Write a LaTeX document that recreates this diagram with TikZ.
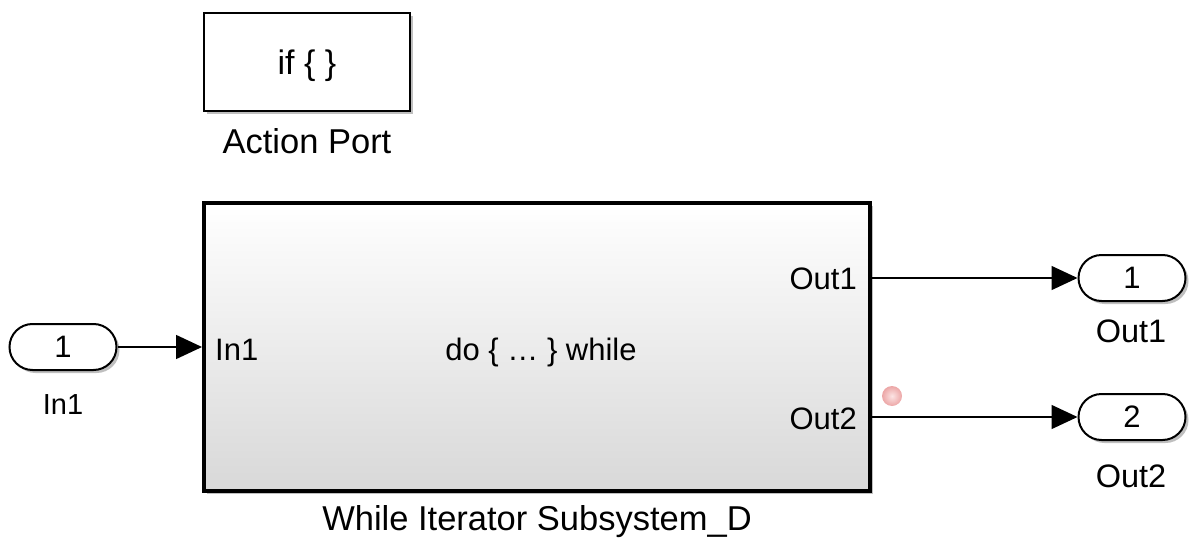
\documentclass[tikz,border=0pt]{standalone}
\usepackage{fontspec}
\setmainfont{Liberation Sans}
\usetikzlibrary{arrows.meta,shapes.misc,shadows}
\definecolor{dotedge}{RGB}{236,166,166}
\definecolor{dotin}{RGB}{252,228,228}
\definecolor{subbot}{RGB}{216,216,216}
\begin{document}
\begin{tikzpicture}[x=1pt,y=-1pt,
  lbl/.style={font=\fontsize{31}{36}\selectfont, inner sep=0pt, text height=22pt, text depth=0pt},
  blocklabel/.style={inner sep=0pt, anchor=base},
  shd/.style={drop shadow={shadow xshift=3pt, shadow yshift=-3pt, opacity=0.25, fill=black}},
  blockbox/.style={draw=black, line width=2.5pt, fill=white, minimum width=206pt, minimum height=98pt, inner sep=0pt, shd},
  subsys/.style={draw=black, line width=4pt, top color=white, bottom color=subbot, minimum width=666pt, minimum height=288pt, inner sep=0pt, shd},
  port/.style={rounded rectangle, draw=black, line width=2pt, fill=white, minimum width=107pt, minimum height=46pt, inner sep=0pt, shd, font=\fontsize{31}{36}\selectfont},
  conn/.style={line width=1.5pt, -{Triangle[length=26pt,width=24pt]}}
]
\useasboundingbox (0,0) rectangle (1195,538);
% Action Port
\node[blockbox] (ap) at (307,62) {};
\node[lbl, font=\fontsize{34}{40}\selectfont, text height=24pt] (aptext) at (307,62) {if \{ \}};
\node[blocklabel, font=\fontsize{34.5}{40}\selectfont] (aplbl) at (307,153) {Action Port};
% Subsystem
\node[subsys] (sys) at (537,347) {};
\node[lbl, anchor=west] (sysin1) at (215,349) {In1};
\node[lbl, anchor=east] (sysout1) at (857,278) {Out1};
\node[lbl, anchor=east] (sysout2) at (857,418) {Out2};
\node[lbl] (systext) at (541,349) {do \{ … \} while};
\node[blocklabel, font=\fontsize{34.5}{40}\selectfont] (syslbl) at (537,530) {While Iterator Subsystem\_D};
% Ports
\node[port] (in1) at (63,347) {1};
\node[blocklabel, font=\fontsize{29}{34}\selectfont] (in1lbl) at (63,414) {In1};
\node[port] (out1) at (1132,278) {1};
\node[blocklabel, font=\fontsize{32.5}{38}\selectfont] (out1lbl) at (1131,342) {Out1};
\node[port] (out2) at (1132,417) {2};
\node[blocklabel, font=\fontsize{32.5}{38}\selectfont] (out2lbl) at (1131,487) {Out2};
% pink dot
\node[circle, minimum size=20pt, inner sep=0pt, inner color=dotin, outer color=dotedge] (dot) at (892,396) {};
% connectors
\draw[conn] (in1.east) -- (in1.east -| sys.west);
\draw[conn] (sys.east |- out1.west) -- (out1.west);
\draw[conn] (sys.east |- out2.west) -- (out2.west);
\end{tikzpicture}
\end{document}
